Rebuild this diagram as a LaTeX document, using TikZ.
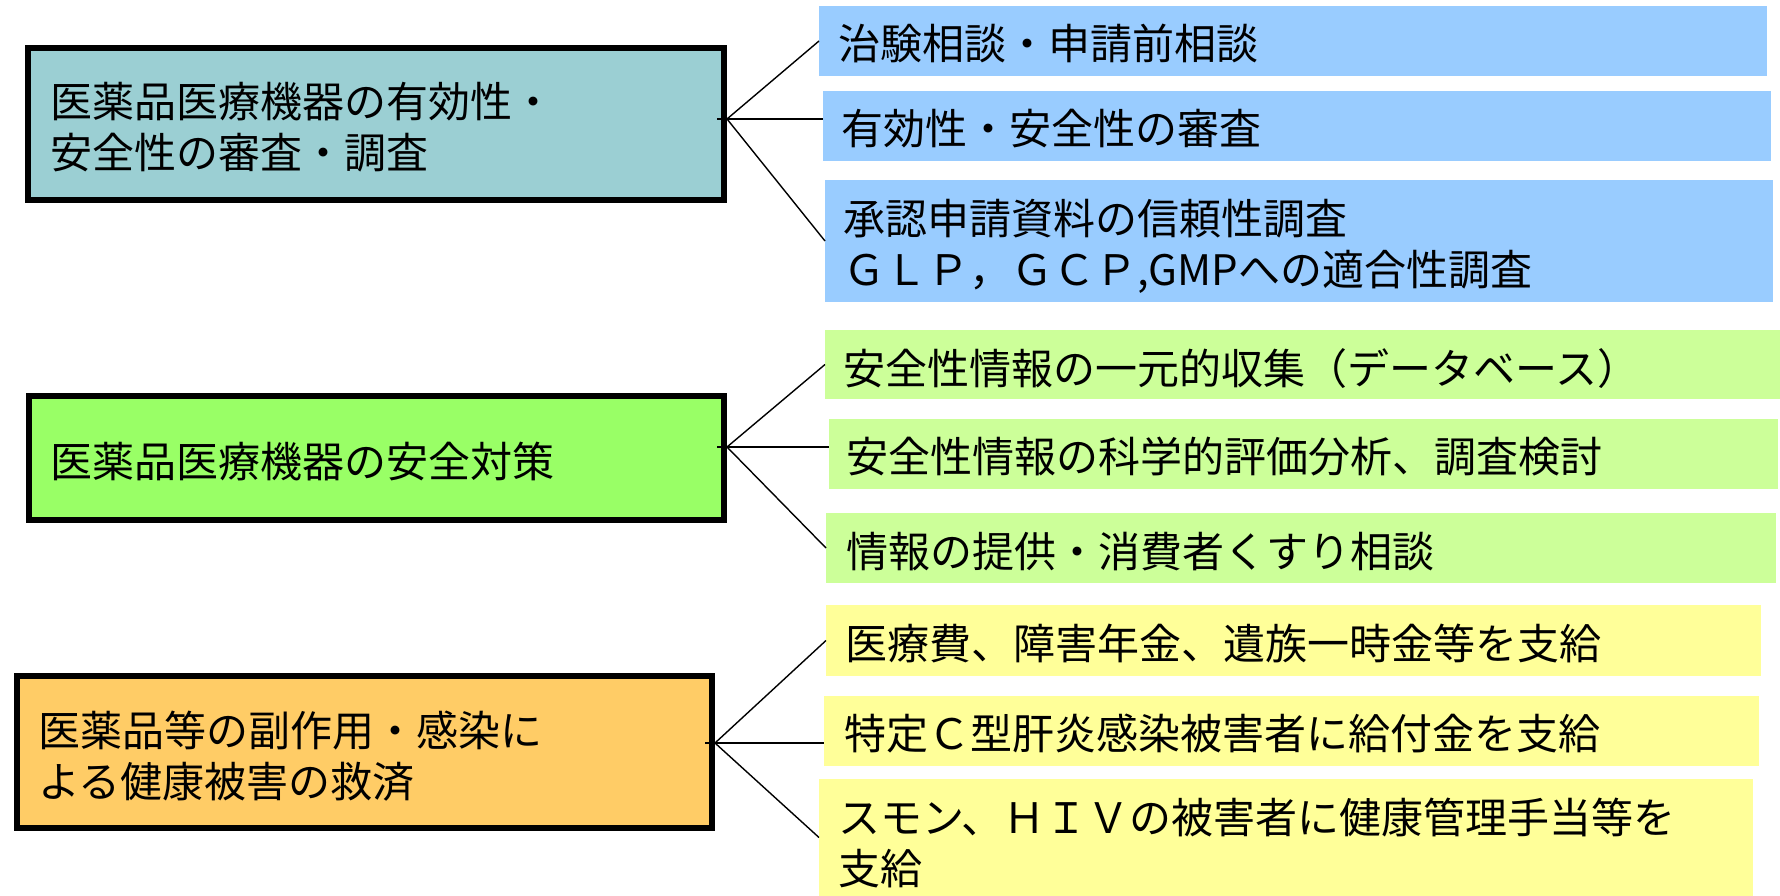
\documentclass[tikz,border=0pt]{standalone}
\usepackage{fontspec}
\newfontfamily\jp{Noto Sans CJK JP}
\definecolor{tealbox}{RGB}{155,207,211}
\definecolor{greenbox}{RGB}{153,255,102}
\definecolor{orangebox}{RGB}{255,204,102}
\definecolor{bluesub}{RGB}{153,204,255}
\definecolor{greensub}{RGB}{204,255,153}
\definecolor{yellowsub}{RGB}{255,255,153}
\begin{document}
\begin{tikzpicture}[x=1pt,y=-1pt,
  mainbox/.style={draw=black, line width=6pt, outer sep=0pt, inner sep=0pt, anchor=north west},
  subbox/.style={draw=none, inner sep=0pt, outer sep=0pt, anchor=north west},
  lbl/.style={font=\jp\fontsize{42}{51}\selectfont, inner sep=0pt, anchor=base west, align=left},
  conn/.style={draw=black, line width=1.4pt}]
\useasboundingbox[fill=white] (0,0) rectangle (1780,896);

% main boxes
\node[mainbox, fill=tealbox, minimum width=696pt, minimum height=152pt] (m1) at (28,48) {};
\node[mainbox, fill=greenbox, minimum width=695pt, minimum height=124pt] (m2) at (29,396) {};
\node[mainbox, fill=orangebox, minimum width=695pt, minimum height=152pt] (m3) at (17,676) {};

% sub boxes
\node[subbox, fill=bluesub, minimum width=948pt, minimum height=70pt] (b1) at (819,6) {};
\node[subbox, fill=bluesub, minimum width=948pt, minimum height=70pt] (b2) at (823,91) {};
\node[subbox, fill=bluesub, minimum width=948pt, minimum height=122pt] (b3) at (825,180) {};
\node[subbox, fill=greensub, minimum width=955pt, minimum height=69pt] (g1) at (825,330) {};
\node[subbox, fill=greensub, minimum width=949pt, minimum height=70pt] (g2) at (829,419) {};
\node[subbox, fill=greensub, minimum width=950pt, minimum height=70pt] (g3) at (826,513) {};
\node[subbox, fill=yellowsub, minimum width=935pt, minimum height=71pt] (y1) at (826,605) {};
\node[subbox, fill=yellowsub, minimum width=935pt, minimum height=70pt] (y2) at (824,696) {};
\node[subbox, fill=yellowsub, minimum width=934pt, minimum height=117pt] (y3) at (819,779) {};

% labels (base anchor = baseline of last line)
\node[lbl] (m1t) at (50,169) {医薬品医療機器の有効性・\\安全性の審査・調査};
\node[lbl] (m2t) at (50,477) {医薬品医療機器の安全対策};
\node[lbl] (m3t) at (38,797) {医薬品等の副作用・感染に\\よる健康被害の救済};
\node[lbl] (b1t) at (838,60) {治験相談・申請前相談};
\node[lbl] (b2t) at (841,145) {有効性・安全性の審査};
\node[lbl] (b3t) at (843,285) {承認申請資料の信頼性調査\\ＧＬＰ，ＧＣＰ,GMPへの適合性調査};
\node[lbl] (g1t) at (843,384) {安全性情報の一元的収集（データベース）};
\node[lbl] (g2t) at (846,472) {安全性情報の科学的評価分析、調査検討};
\node[lbl] (g3t) at (846,567) {情報の提供・消費者くすり相談};
\node[lbl] (y1t) at (845,659) {医療費、障害年金、遺族一時金等を支給};
\node[lbl] (y2t) at (844,749) {特定Ｃ型肝炎感染被害者に給付金を支給};
\node[lbl] (y3t) at (838,884) {スモン、ＨＩＶの被害者に健康管理手当等を\\支給};

% hubs
\coordinate (h1) at (727,119);
\coordinate (h2) at (727,447);
\coordinate (h3) at (715,743);

% connectors
\draw[conn] (h1) -- (b1.west);
\draw[conn] ([xshift=-10pt]h1) -- (h1 -| b2.west);
\draw[conn] (h1) -- (b3.west);
\draw[conn] (h2) -- (g1.west);
\draw[conn] ([xshift=-10pt]h2) -- (h2 -| g2.west);
\draw[conn] (h2) -- (g3.west);
\draw[conn] (h3) -- (y1.west);
\draw[conn] ([xshift=-10pt]h3) -- (h3 -| y2.west);
\draw[conn] (h3) -- (y3.west);
\end{tikzpicture}
\end{document}
